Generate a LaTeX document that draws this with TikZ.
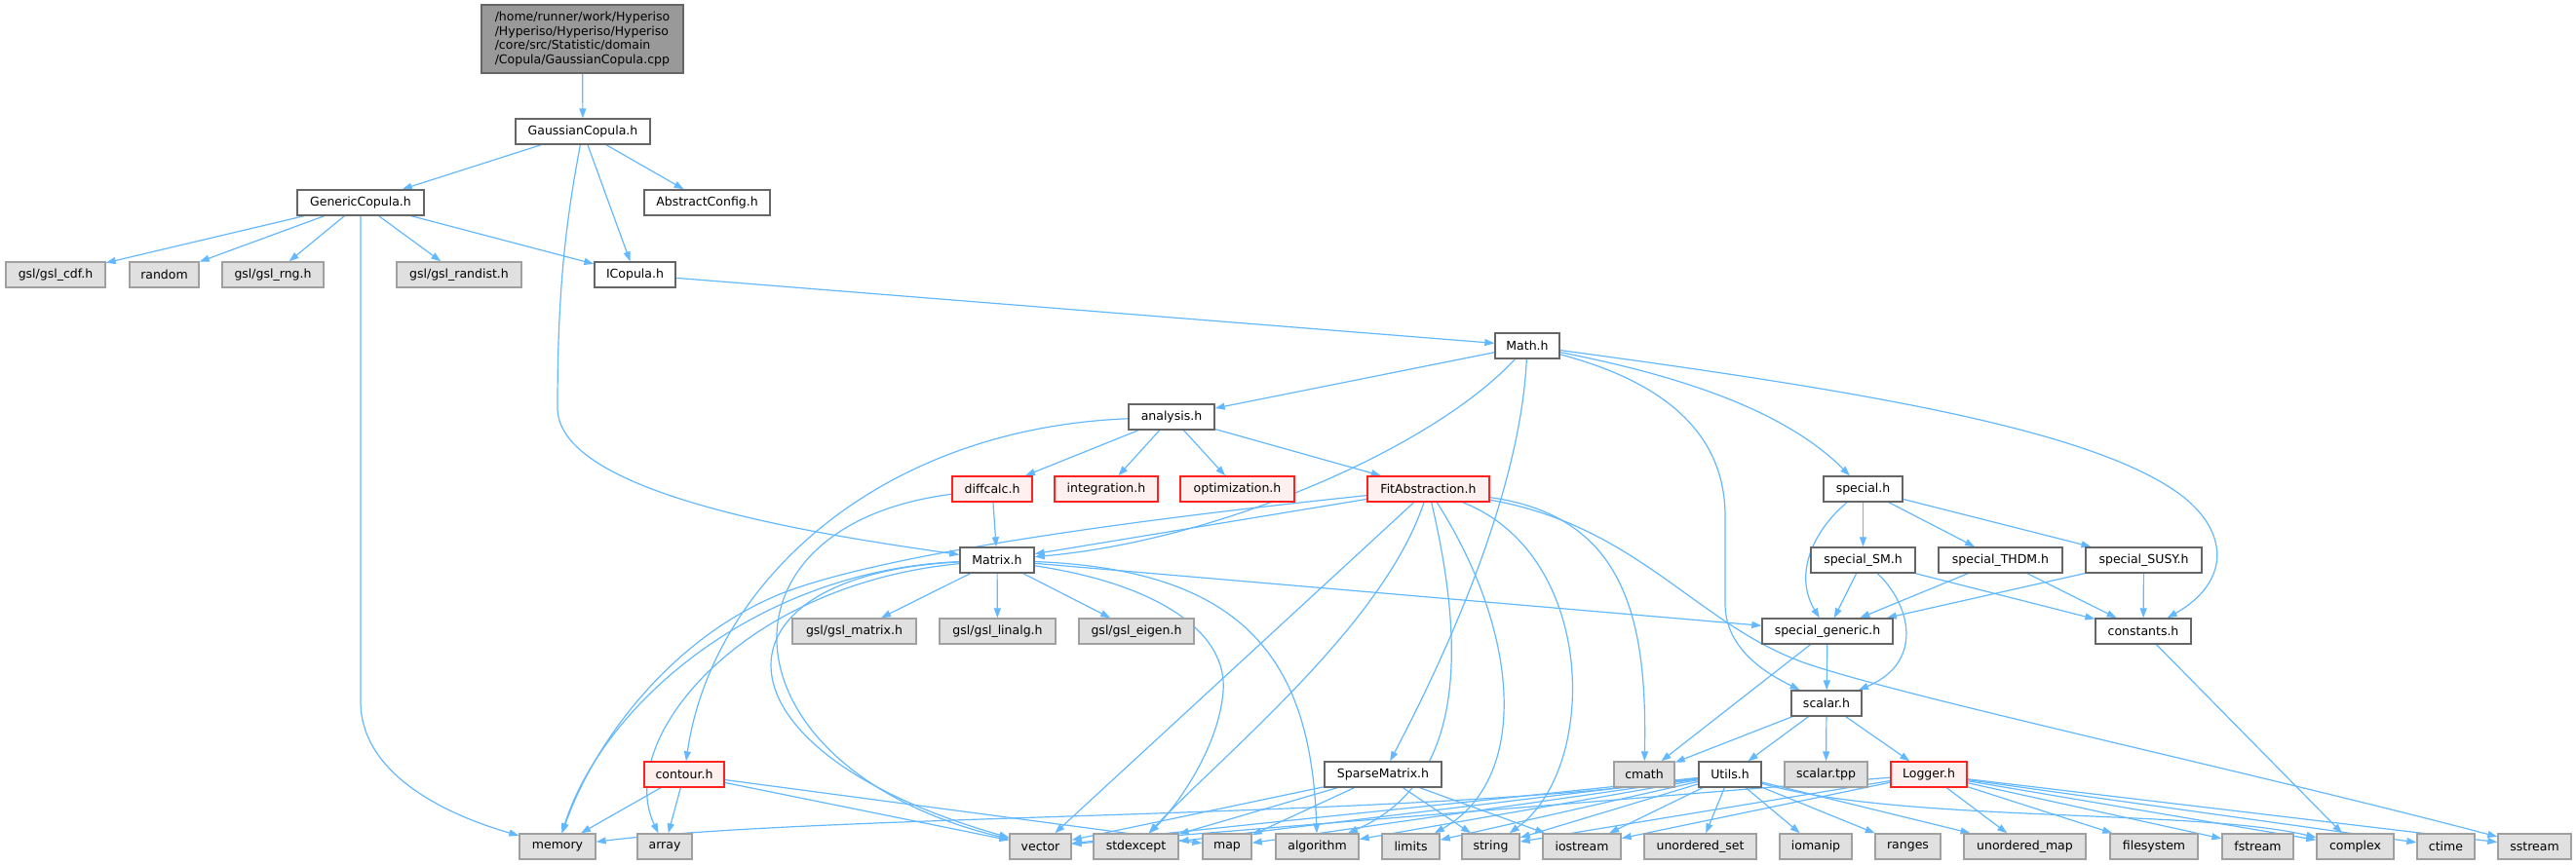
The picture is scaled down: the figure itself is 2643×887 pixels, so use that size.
\documentclass[tikz,border=0pt]{standalone}
\usepackage{fontspec}
\setmainfont{DejaVu Sans}
\usetikzlibrary{arrows.meta}
\pgfdeclarelayer{edgelayer}
\pgfsetlayers{edgelayer,main}
\definecolor{edgec}{HTML}{63B8FF}
\definecolor{nbord}{HTML}{666666}
\definecolor{sysbord}{HTML}{A0A0A0}
\definecolor{sysfill}{HTML}{E0E0E0}
\definecolor{trfill}{HTML}{FFF0F0}
\definecolor{trbord}{HTML}{FF2020}
\definecolor{topfill}{HTML}{999999}
\tikzset{
  nb/.style={draw=nbord, fill=white, line width=1.4pt, minimum height=26pt, inner sep=0pt,
    font=\fontsize{12.5}{14.8}\selectfont, text=black},
  sys/.style={nb, draw=sysbord, fill=sysfill},
  trunc/.style={nb, draw=trbord, fill=trfill},
  topnode/.style={nb, fill=topfill, minimum height=70pt, align=left},
  edge/.style={draw=edgec, line width=1.2pt, -{Triangle[length=10pt,width=7pt]}},
}
\begin{document}
\begin{tikzpicture}[x=1pt,y=-1pt]
\useasboundingbox (0,0) rectangle (2643,887);
% ---------- nodes ----------
\node[topnode, minimum width=207pt] (cpp) at (597.5,40) {/home/runner/work/Hyperiso\\/Hyperiso/Hyperiso/Hyperiso\\/core/src/Statistic/domain\\/Copula/GaussianCopula.cpp};
\node[nb, minimum width=138pt] (gch) at (598,135) {GaussianCopula.h};
\node[nb, minimum width=130pt] (gen) at (370,208) {GenericCopula.h};
\node[nb, minimum width=129pt] (abs) at (725.5,208) {AbstractConfig.h};
\node[sys, minimum width=102pt] (cdf) at (57,282) {gsl/gsl\_cdf.h};
\node[sys, minimum width=71pt] (rnd) at (168.5,282) {random};
\node[sys, minimum width=104pt] (rng) at (280,282) {gsl/gsl\_rng.h};
\node[sys, minimum width=128pt] (rdist) at (471,282) {gsl/gsl\_randist.h};
\node[nb, minimum width=83pt] (icop) at (651.5,282) {ICopula.h};
\node[nb, minimum width=66pt] (math) at (1567,355) {Math.h};
\node[nb, minimum width=88pt] (ana) at (1202,428) {analysis.h};
\node[trunc, minimum width=82pt] (diff) at (1018,502) {diffcalc.h};
\node[trunc, minimum width=106pt] (integ) at (1135,502) {integration.h};
\node[trunc, minimum width=117pt] (optim) at (1269.5,502) {optimization.h};
\node[trunc, minimum width=125pt] (fit) at (1465.5,502) {FitAbstraction.h};
\node[nb, minimum width=81pt] (spec) at (1911.5,502) {special.h};
\node[nb, minimum width=76pt] (mat) at (1023,575) {Matrix.h};
\node[nb, minimum width=107pt] (sm) at (1911.5,575) {special\_SM.h};
\node[nb, minimum width=127pt] (thdm) at (2052.5,575) {special\_THDM.h};
\node[nb, minimum width=119pt] (susy) at (2199.5,575) {special\_SUSY.h};
\node[sys, minimum width=127pt] (gmat) at (876.5,648) {gsl/gsl\_matrix.h};
\node[sys, minimum width=119pt] (glin) at (1023.5,648) {gsl/gsl\_linalg.h};
\node[sys, minimum width=118pt] (geig) at (1166,648) {gsl/gsl\_eigen.h};
\node[nb, minimum width=134pt] (sgen) at (1875,648) {special\_generic.h};
\node[nb, minimum width=98pt] (const) at (2199,648) {constants.h};
\node[nb, minimum width=72pt] (scal) at (1874,722) {scalar.h};
\node[trunc, minimum width=82pt] (cont) at (702,795) {contour.h};
\node[nb, minimum width=120pt] (sparse) at (1419,795) {SparseMatrix.h};
\node[sys, minimum width=62pt] (cmath) at (1687,795) {cmath};
\node[nb, minimum width=64pt] (utils) at (1775,795) {Utils.h};
\node[sys, minimum width=85pt] (tpp) at (1873.5,795) {scalar.tpp};
\node[trunc, minimum width=78pt] (log) at (1979,795) {Logger.h};
\node[sys, minimum width=78pt] (mem) at (572,869) {memory};
\node[sys, minimum width=56pt] (arr) at (682,869) {array};
\node[sys, minimum width=63pt] (vec) at (1067.5,869) {vector};
\node[sys, minimum width=87pt] (stdx) at (1165.5,869) {stdexcept};
\node[sys, minimum width=50pt] (map) at (1259,869) {map};
\node[sys, minimum width=85pt] (alg) at (1351.5,869) {algorithm};
\node[sys, minimum width=59pt] (lim) at (1447.5,869) {limits};
\node[sys, minimum width=59pt] (str) at (1529.5,869) {string};
\node[sys, minimum width=80pt] (ios) at (1623,869) {iostream};
\node[sys, minimum width=115pt] (uset) at (1744.5,869) {unordered\_set};
\node[sys, minimum width=74pt] (iom) at (1863,869) {iomanip};
\node[sys, minimum width=67pt] (rngs) at (1957.5,869) {ranges};
\node[sys, minimum width=125pt] (umap) at (2077.5,869) {unordered\_map};
\node[sys, minimum width=90pt] (fsys) at (2210,869) {filesystem};
\node[sys, minimum width=73pt] (fstr) at (2316.5,869) {fstream};
\node[sys, minimum width=79pt] (cplx) at (2416.5,869) {complex};
\node[sys, minimum width=59pt] (ctime) at (2509.5,869) {ctime};
\node[sys, minimum width=75pt] (sstr) at (2600.5,869) {sstream};
% ---------- edges ----------
\begin{pgfonlayer}{edgelayer}
\draw[edge] (cpp) -- (gch);
\draw[edge] (gch) -- (gen);
\draw[edge] (gch) -- (abs);
\draw[edge] (gch) -- (icop);
\draw[edge] (gch) .. controls (580,230) and (572,300) .. (572,420) .. controls (575,510) and (850,550) .. (mat);
\draw[edge] (gen) -- (cdf);
\draw[edge] (gen) -- (rnd);
\draw[edge] (gen) -- (rng);
\draw[edge] (gen) -- (rdist);
\draw[edge] (gen) -- (icop);
\draw[edge] (gen) -- (370,720) .. controls (370,800) and (470,840) .. (mem);
\draw[edge] (icop) -- (math);
\draw[edge] (math) -- (ana);
\draw[edge] (math) .. controls (1470,460) and (1250,555) .. (mat);
\draw[edge] (math) .. controls (1560,500) and (1490,660) .. (sparse);
\draw[edge] (math) .. controls (1700,390) and (1770,440) .. (1770,530) -- (1770,620) .. controls (1770,670) and (1820,695) .. (scal);
\draw[edge] (math) .. controls (1720,385) and (1830,420) .. (spec);
\draw[edge] (math) .. controls (1900,400) and (2150,440) .. (2240,510) .. controls (2290,550) and (2285,600) .. (const);
\draw[edge] (ana) -- (diff);
\draw[edge] (ana) -- (integ);
\draw[edge] (ana) -- (optim);
\draw[edge] (ana) -- (fit);
\draw[edge] (ana) .. controls (900,440) and (730,600) .. (cont);
\draw[edge] (diff) -- (mat);
\draw[edge] (diff) .. controls (720,540) and (740,790) .. (vec);
\draw[edge] (mat) -- (gmat);
\draw[edge] (mat) -- (glin);
\draw[edge] (mat) -- (geig);
\draw[edge] (mat) .. controls (780,585) and (620,720) .. (mem);
\draw[edge] (mat) .. controls (760,600) and (630,760) .. (arr);
\draw[edge] (mat) .. controls (720,590) and (720,770) .. (vec);
\draw[edge] (mat) .. controls (1190,600) and (1260,650) .. (1255,710) .. controls (1250,770) and (1205,830) .. (stdx);
\draw[edge] (mat) .. controls (1280,585) and (1345,680) .. (alg);
\draw[edge] (mat) -- (sgen);
\draw[edge] (fit) -- (mat);
\draw[edge] (fit) .. controls (1150,535) and (900,570) .. (800,610) .. controls (690,655) and (610,760) .. (mem);
\draw[edge] (fit) -- (vec);
\draw[edge] (fit) .. controls (1420,640) and (1260,770) .. (stdx);
\draw[edge] (fit) .. controls (1500,650) and (1510,800) .. (alg);
\draw[edge] (fit) .. controls (1560,650) and (1570,800) .. (lim);
\draw[edge] (fit) .. controls (1640,570) and (1640,790) .. (str);
\draw[edge] (fit) .. controls (1670,530) and (1690,640) .. (cmath);
\draw[edge] (fit) .. controls (1680,540) and (1740,640) .. (1850,680) .. controls (1950,715) and (2300,790) .. (sstr);
\draw[edge] (spec) -- (sm);
\draw[edge] (spec) -- (thdm);
\draw[edge] (spec) -- (susy);
\draw[edge] (spec) .. controls (1860,545) and (1840,590) .. (sgen);
\draw[edge] (sm) -- (sgen);
\draw[edge] (thdm) -- (sgen);
\draw[edge] (susy) -- (sgen);
\draw[edge] (sm) -- (const);
\draw[edge] (thdm) -- (const);
\draw[edge] (susy) -- (const);
\draw[edge] (sm) .. controls (1960,620) and (1975,680) .. (scal);
\draw[edge] (sgen) -- (scal);
\draw[edge] (sgen) -- (cmath);
\draw[edge] (const) -- (cplx);
\draw[edge] (scal) -- (cmath);
\draw[edge] (scal) -- (utils);
\draw[edge] (scal) -- (tpp);
\draw[edge] (scal) -- (log);
\draw[edge] (cont) -- (mem);
\draw[edge] (cont) -- (arr);
\draw[edge] (cont) -- (vec);
\draw[edge] (cont) -- (map);
\draw[edge] (sparse) -- (vec);
\draw[edge] (sparse) -- (stdx);
\draw[edge] (sparse) -- (map);
\draw[edge] (sparse) -- (str);
\draw[edge] (sparse) -- (ios);
\draw[edge] (utils) .. controls (1450,840) and (850,835) .. (mem);
\draw[edge] (utils) -- (vec);
\draw[edge] (utils) -- (stdx);
\draw[edge] (utils) -- (map);
\draw[edge] (utils) -- (alg);
\draw[edge] (utils) -- (lim);
\draw[edge] (utils) -- (str);
\draw[edge] (utils) -- (ios);
\draw[edge] (utils) -- (uset);
\draw[edge] (utils) -- (iom);
\draw[edge] (utils) -- (rngs);
\draw[edge] (utils) -- (umap);
\draw[edge] (utils) .. controls (1950,845) and (2250,830) .. (cplx);
\draw[edge] (log) -- (vec);
\draw[edge] (log) -- (str);
\draw[edge] (log) -- (ios);
\draw[edge] (log) -- (umap);
\draw[edge] (log) -- (fsys);
\draw[edge] (log) -- (fstr);
\draw[edge] (log) -- (cplx);
\draw[edge] (log) -- (ctime);
\draw[edge] (log) -- (sstr);
\end{pgfonlayer}
\end{tikzpicture}
\end{document}
